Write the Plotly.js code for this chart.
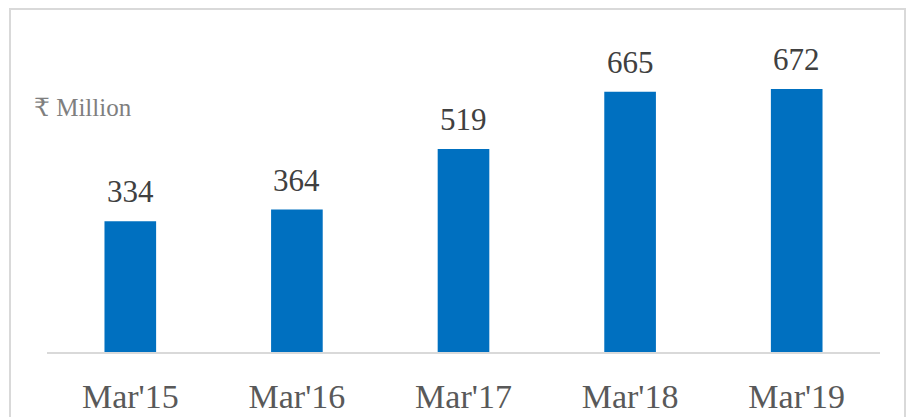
<!DOCTYPE html>
<html><head><meta charset="utf-8">
<script src="https://cdn.plot.ly/plotly-3.0.1.min.js"></script>
<style>html,body{margin:0;padding:0;background:#fff}#c{width:908px;height:417px}</style>
</head><body><div id="c"></div>
<script>
const categories = ["Mar'15","Mar'16","Mar'17","Mar'18","Mar'19"];
const values = [334, 364, 519, 665, 672];
const unitLabel = "₹ Million";

const serif = "Liberation Serif, DejaVu Serif, serif";
const trace = {
  type: 'bar', x: categories, y: values,
  marker: {color: '#0070c0'}, hoverinfo: 'none'
};
const annotations = categories.map((c, i) => ({
  x: c, y: values[i], xref: 'x', yref: 'y', text: String(values[i]),
  showarrow: false, yanchor: 'bottom', yshift: 10,
  font: {family: serif, size: 31, color: '#404040'}
}));
annotations.push({
  xref: 'paper', yref: 'paper', x: -0.018, y: 0.78, xanchor: 'left', yanchor: 'middle',
  text: unitLabel, showarrow: false, font: {family: serif, size: 25, color: '#7f7f7f'}
});
const layout = {
  width: 908, height: 417,
  margin: {l: 47, r: 28, t: 39, b: 65},
  paper_bgcolor: '#fff', plot_bgcolor: '#fff',
  bargap: 0.69, showlegend: false,
  xaxis: {showline: true, linecolor: '#d9d9d9', linewidth: 2, ticks: '',
    tickfont: {family: serif, size: 34, color: '#595959'}, ticklabelstandoff: 13,
    fixedrange: true},
  yaxis: {range: [0, 800], visible: false, showgrid: false, zeroline: false, fixedrange: true},
  shapes: [{type: 'rect', xref: 'paper', yref: 'paper',
    x0: -0.0444, x1: 1.03, y0: -0.22, y1: 1.096,
    line: {color: '#d9d9d9', width: 2}, layer: 'below'}],
  annotations: annotations
};
Plotly.newPlot('c', [trace], layout, {displayModeBar: false, staticPlot: true});
</script></body></html>
